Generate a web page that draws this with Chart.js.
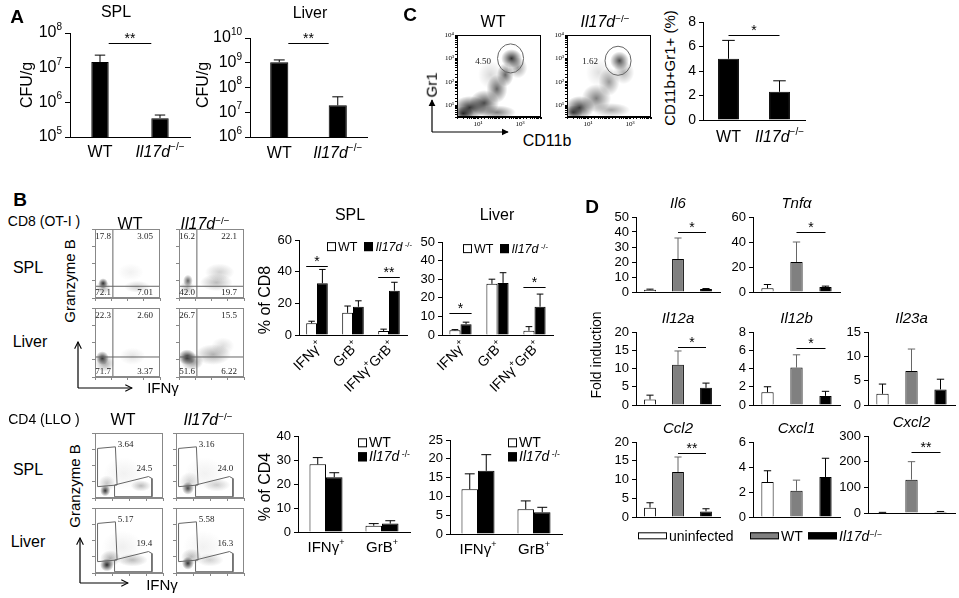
<!DOCTYPE html>
<html>
<head>
<meta charset="utf-8">
<title>Il17d infection figure</title>
<script src="https://cdn.jsdelivr.net/npm/chart.js@4.4.1/dist/chart.umd.min.js"></script>
<style>
  html, body { margin: 0; padding: 0; background: #fff; }
  #fig { position: relative; width: 959px; height: 598px; overflow: hidden; font-family: "Liberation Sans", Arial, Helvetica, sans-serif; color: #000; }
  #fig canvas { position: absolute; }
  .t { position: absolute; white-space: nowrap; line-height: 1.1; }
  .t sup { font-size: 0.62em; line-height: 0; vertical-align: 0.55em; }
  .sq { display: inline-block; width: 7px; height: 7px; border: 1px solid #000; margin-right: 2px; vertical-align: 0; background: #fff; }
  .bar { display: inline-block; width: 27px; height: 5px; border: 1px solid #000; margin-right: 2px; vertical-align: 2px; }
</style>
</head>
<body>
<div id="fig"></div>
<script>
// ---- values ----
const groups = ['WT', '_Il17d_^−/−^'];

// A: bacterial load, CFU/g (mean, sd)
const splCfu = [1.45e7, 3.5e5];
const splCfuSd = [0.85e7, 0.8e5];
const liverCfu = [1.05e9, 1.9e7];
const liverCfuSd = [0.25e9, 2.3e7];
const splSig = 5.1e7;
const liverSig = 6.3e9;

// C: CD11b+Gr1+ cells (%)
const myeloidPct = [5.0, 2.3];
const myeloidSd = [1.5, 0.9];
const myeloidSig = 6.9;
const gr1Gate = [4.50, 1.62];

// B: CD8 (OT-I) cytokine staining, % of CD8
const cd8Cats = ['IFNγ^+^', 'GrB^+^', 'IFNγ^+^GrB^+^'];
const cd8SplWt = [7.4, 14.0, 2.5];
const cd8SplWtSd = [1.3, 4.3, 1.2];
const cd8SplKo = [32.7, 17.8, 28.0];
const cd8SplKoSd = [8.7, 3.8, 5.3];
const cd8LivWt = [2.5, 27.5, 2.3];
const cd8LivWtSd = [0.4, 2.5, 2.2];
const cd8LivKo = [5.8, 28.0, 15.2];
const cd8LivKoSd = [1.1, 5.5, 6.8];

// B: CD4 (LLO), % of CD4
const cd4Cats = ['IFNγ^+^', 'GrB^+^'];
const cd4SplWt = [28.2, 2.6];
const cd4SplWtSd = [2.8, 0.9];
const cd4SplKo = [22.8, 3.5];
const cd4SplKoSd = [1.9, 1.2];
const cd4LivWt = [11.9, 6.6];
const cd4LivWtSd = [4.1, 2.2];
const cd4LivKo = [16.8, 5.8];
const cd4LivKoSd = [4.3, 1.3];

// B: flow quadrant percentages [UL, UR, LL, LR]
const cd8SplWtQ = [17.8, 3.05, 72.1, 7.01];
const cd8SplKoQ = [16.2, 22.1, 42.0, 19.7];
const cd8LivWtQ = [22.3, 2.60, 71.7, 3.37];
const cd8LivKoQ = [26.7, 15.5, 51.6, 6.22];
// B: CD4 gate percentages [GrB+, IFNγ+]
const cd4SplWtG = [3.64, 24.5];
const cd4SplKoG = [3.16, 24.0];
const cd4LivWtG = [5.17, 19.4];
const cd4LivKoG = [5.58, 16.3];

// flow gates, in decades
const cd8SplCut = [1.1, 0.68];
const cd8LivCut = [1.1, 1.16];
const grbGate = [[0.15, 0.7], [0.15, 3.05], [1.2, 3.15], [1.3, 0.8], [0.15, 0.7]];
const ifngGate = [[1.15, 0.08], [1.15, 0.8], [3.15, 1.32], [3.35, 1.2], [3.35, 0.08], [1.15, 0.08]];
const gr1GateWt = [2.55, 3.0];
const gr1GateKo = [2.43, 2.9];

// flow event density [x, y, spread x, spread y, density] in decades
const cloudCd8SplWt = [[0.5, 0.85, 0.3, 0.3, 0.9], [0.5, 0.6, 0.45, 0.4, 0.35], [2.6, 0.65, 0.8, 0.35, 0.2], [2.2, 1.5, 0.8, 0.5, 0.06]];
const cloudCd8SplKo = [[0.55, 1.0, 0.3, 0.35, 0.7], [0.5, 0.6, 0.45, 0.4, 0.3], [2.3, 0.9, 1.0, 0.5, 0.3], [2.5, 1.5, 0.9, 0.5, 0.2]];
const cloudCd8LivWt = [[0.45, 1.1, 0.4, 0.4, 0.9], [0.6, 0.8, 0.6, 0.5, 0.4], [2.3, 1.2, 0.8, 0.5, 0.12]];
const cloudCd8LivKo = [[0.5, 1.15, 0.55, 0.45, 0.95], [0.8, 0.9, 0.7, 0.5, 0.5], [2.1, 1.3, 1.1, 0.6, 0.35], [2.7, 1.8, 0.7, 0.5, 0.15]];
const cloudCd4SplWt = [[0.6, 0.45, 0.3, 0.35, 0.9], [0.7, 0.9, 0.5, 0.5, 0.25], [2.7, 0.75, 0.6, 0.35, 0.3], [1.7, 1.5, 1.2, 1.0, 0.06]];
const cloudCd4SplKo = [[0.7, 0.6, 0.35, 0.4, 0.8], [0.8, 1.0, 0.6, 0.6, 0.2], [2.4, 0.8, 0.8, 0.4, 0.22], [1.7, 1.5, 1.2, 1.0, 0.06]];
const cloudCd4LivWt = [[0.7, 0.5, 0.4, 0.4, 0.95], [0.9, 0.9, 0.6, 0.5, 0.35], [2.2, 0.8, 0.9, 0.4, 0.3], [1.6, 1.6, 1.2, 1.0, 0.07]];
const cloudCd4LivKo = [[0.7, 0.6, 0.35, 0.4, 0.9], [0.9, 1.0, 0.6, 0.5, 0.3], [2.0, 0.8, 0.8, 0.4, 0.2], [1.6, 1.6, 1.2, 1.0, 0.06]];
const cloudGr1Wt = [[0.6, 0.9, 0.8, 0.5, 0.8], [0.3, 0.65, 0.5, 0.3, 0.8], [1.3, 1.1, 0.7, 0.55, 0.7], [1.9, 0.7, 0.9, 0.3, 0.5],
  [1.9, 1.7, 0.5, 0.6, 0.6], [2.3, 2.3, 0.4, 0.5, 0.6], [2.6, 3.0, 0.5, 0.4, 0.8], [2.9, 2.6, 0.45, 0.45, 0.4], [1.6, 2.3, 0.6, 0.6, 0.15]];
const cloudGr1Ko = [[0.6, 0.9, 0.7, 0.5, 0.75], [0.3, 0.7, 0.45, 0.3, 0.7], [1.4, 1.3, 0.7, 0.6, 0.5], [2.1, 0.8, 0.9, 0.3, 0.35],
  [2.0, 2.0, 0.5, 0.6, 0.4], [2.5, 2.9, 0.45, 0.4, 0.7], [2.7, 2.4, 0.5, 0.5, 0.3], [1.5, 2.4, 0.6, 0.6, 0.12]];

// D: fold induction [uninfected, WT, Il17d-/-]
const infection = ['uninfected', 'WT', '_Il17d_^−/−^'];
const il6 = [1.5, 22, 2.0], il6Sd = [0.4, 14, 0.3], il6Sig = [40, '*'];
const tnfa = [3, 24, 4], tnfaSd = [3, 16, 0.7], tnfaSig = [48, '*'];
const il12a = [1.5, 11, 4.7], il12aSd = [1.2, 3.8, 1.3], il12aSig = [16, '*'];
const il12b = [1.4, 4.1, 1.0], il12bSd = [0.6, 1.4, 0.5], il12bSig = [6.3, '*'];
const il23a = [2.3, 7, 3.2], il23aSd = [2.0, 4.5, 2.1];
const ccl2 = [2.5, 12, 1.5], ccl2Sd = [1.3, 4, 0.7], ccl2Sig = [17, '**'];
const cxcl1 = [2.8, 2.1, 3.2], cxcl1Sd = [0.9, 0.85, 1.5];
const cxcl2 = [2, 130, 4], cxcl2Sd = [0.5, 70, 2], cxcl2Sig = [238, '**'];

// ---- helpers ----
const FONT = '"Liberation Sans", Arial, Helvetica, sans-serif';
const SERIF = '"Liberation Serif", "Times New Roman", serif';
const SUPS = '⁰¹²³⁴⁵⁶⁷⁸⁹';
const fig = document.getElementById('fig');
const isPow10 = v => Math.abs(Math.log10(v) - Math.round(Math.log10(v))) < 1e-6;

// '_x_' = italic, '^x^' = superscript
function parseRich(s) {
  const parts = [];
  let it = false, sup = false, buf = '';
  const flush = () => { if (buf) parts.push({ t: buf, it, sup }); buf = ''; };
  for (const ch of s) {
    if (ch === '_') { flush(); it = !it; }
    else if (ch === '^') { flush(); sup = !sup; }
    else buf += ch;
  }
  flush();
  return parts;
}
function richHtml(s) {
  return parseRich(s).map(p => {
    let h = p.t;
    if (p.it) h = '<i>' + h + '</i>';
    if (p.sup) h = '<sup>' + h + '</sup>';
    return h;
  }).join('');
}
function drawRich(ctx, s, x, y, size, align) {
  const parts = parseRich(s);
  const fontOf = p => (p.it ? 'italic ' : '') + (p.sup ? Math.round(size * 0.62) : size) + 'px ' + FONT;
  let total = 0;
  parts.forEach(p => { ctx.font = fontOf(p); p.w = ctx.measureText(p.t).width; total += p.w; });
  let cx = align === 'center' ? x - total / 2 : align === 'right' ? x - total : x;
  ctx.save();
  ctx.fillStyle = '#000';
  ctx.textBaseline = 'middle';
  ctx.textAlign = 'left';
  parts.forEach(p => {
    ctx.font = fontOf(p);
    ctx.fillText(p.t, cx, p.sup ? y - size * 0.36 : y);
    cx += p.w;
  });
  ctx.restore();
}

function label(html, x, y, size, rot, anchor) {
  const d = document.createElement('div');
  d.className = 't';
  d.innerHTML = html;
  const tx = anchor === 'left' ? '0' : '-50%';
  d.style.cssText = 'left:' + x + 'px;top:' + y + 'px;font-size:' + size + 'px;transform:translate(' + tx + ',-50%)' + (rot ? ' rotate(-90deg)' : '');
  fig.appendChild(d);
}

// canvas sized so the plot area lands on [ax..right] x [top..bottom]
function makeCanvas(box) {
  const pt = box.pt ?? 14, pr = box.pr ?? 6;
  const left = box.ax - box.yw, top = box.top - pt;
  const w = box.right - left + pr, h = box.bottom - top + box.xh;
  const c = document.createElement('canvas');
  c.width = w; c.height = h;
  c.style.left = left + 'px'; c.style.top = top + 'px';
  c.style.width = w + 'px'; c.style.height = h + 'px';
  fig.appendChild(c);
  return { ctx: c, padding: { top: pt, right: pr, left: 0, bottom: 0 } };
}

function baseOptions(padding, scales, plugins) {
  return {
    responsive: false, maintainAspectRatio: false, animation: false, events: [],
    layout: { padding }, scales,
    plugins: Object.assign({ legend: { display: false }, tooltip: { enabled: false } }, plugins)
  };
}
function linY(max, step, w, size) {
  return {
    type: 'linear', min: 0, max,
    ticks: { stepSize: step, autoSkip: false, color: '#000', font: { family: FONT, size: size || 13 }, padding: 3 },
    grid: { drawOnChartArea: false, drawTicks: true, tickLength: 4, color: '#000' },
    border: { display: true, color: '#000' },
    afterFit: s => { s.width = w; }
  };
}
function logY(min, max, w) {
  return {
    type: 'logarithmic', min, max,
    afterBuildTicks: s => { s.ticks = s.ticks.filter(t => isPow10(t.value)); },
    ticks: { display: false },
    grid: { drawOnChartArea: false, drawTicks: true, tickLength: 5, color: '#000' },
    border: { display: true, color: '#000' },
    afterFit: s => { s.width = w; }
  };
}
function catX(h) {
  return {
    type: 'category', offset: true,
    ticks: { display: false },
    grid: { display: false, drawTicks: false },
    border: { display: true, color: '#000' },
    afterFit: s => { s.height = h; }
  };
}

// ---- plugins ----
const errPlugin = {
  id: 'errbars',
  afterDatasetsDraw(chart) {
    const { ctx, scales: { y } } = chart;
    chart.data.datasets.forEach((ds, i) => {
      if (!ds.sd) return;
      chart.getDatasetMeta(i).data.forEach((bar, j) => {
        const e = ds.sd[j];
        if (!e) return;
        const yTop = y.getPixelForValue(ds.data[j] + e);
        const cap = Math.max(3, bar.width * 0.3);
        ctx.save();
        ctx.strokeStyle = Array.isArray(ds.errColor) ? ds.errColor[j] : '#000';
        ctx.lineWidth = 1;
        ctx.beginPath();
        ctx.moveTo(bar.x, bar.y);
        ctx.lineTo(bar.x, yTop);
        ctx.moveTo(bar.x - cap, yTop);
        ctx.lineTo(bar.x + cap, yTop);
        ctx.stroke();
        ctx.restore();
      });
    });
  }
};

const sigPlugin = {
  id: 'sig',
  afterDatasetsDraw(chart, args, o) {
    if (!o.items) return;
    const { ctx, scales: { y } } = chart;
    o.items.forEach(it => {
      const p = chart.getDatasetMeta(it.a[0]).data[it.a[1]];
      const q = chart.getDatasetMeta(it.b[0]).data[it.b[1]];
      let x1 = p.x, x2 = q.x;
      if (it.mode === 'edge') { x1 += p.width / 2; x2 -= q.width / 2; }
      if (it.mode === 'outer') { x1 -= p.width / 2; x2 += q.width / 2; }
      const py = Math.round(y.getPixelForValue(it.value)) + 0.5;
      ctx.save();
      ctx.strokeStyle = '#000';
      ctx.lineWidth = 1;
      ctx.beginPath();
      ctx.moveTo(x1, py);
      ctx.lineTo(x2, py);
      ctx.stroke();
      ctx.fillStyle = '#000';
      ctx.font = '14px ' + FONT;
      ctx.textAlign = 'center';
      ctx.textBaseline = 'alphabetic';
      ctx.fillText(it.text, (x1 + x2) / 2, py - 1);
      ctx.restore();
    });
  }
};

const richXPlugin = {
  id: 'richX',
  afterDraw(chart, args, o) {
    if (!o.labels) return;
    const { ctx, chartArea, scales: { x } } = chart;
    o.labels.forEach((lab, i) => {
      const px = x.getPixelForValue(i);
      if (o.rotate) {
        ctx.save();
        ctx.translate(px + 4, chartArea.bottom + o.dy);
        ctx.rotate(-Math.PI / 4);
        drawRich(ctx, lab, 0, 0, o.size, 'right');
        ctx.restore();
      } else {
        drawRich(ctx, lab, px, chartArea.bottom + o.dy, o.size, 'center');
      }
    });
  }
};

const powPlugin = {
  id: 'pow10',
  afterDraw(chart, args, o) {
    if (!o.size) return;
    const { ctx, chartArea, scales: { y } } = chart;
    y.ticks.forEach(t => {
      drawRich(ctx, '10^' + Math.round(Math.log10(t.value)) + '^', chartArea.left - 8, y.getPixelForValue(t.value), o.size, 'right');
    });
  }
};

const flowPlugin = {
  id: 'flow',
  beforeDatasetsDraw(chart, args, o) {
    if (!o.clusters) return;
    const { ctx, chartArea: ca, scales: { x, y } } = chart;
    ctx.save();
    ctx.beginPath();
    ctx.rect(ca.left, ca.top, ca.width, ca.height);
    ctx.clip();
    o.clusters.forEach(([cx, cy, sx, sy, w]) => {
      const px = x.getPixelForValue(10 ** cx), py = y.getPixelForValue(10 ** cy);
      const rx = Math.abs(x.getPixelForValue(10 ** (cx + sx)) - px);
      const ry = Math.abs(y.getPixelForValue(10 ** (cy + sy)) - py);
      ctx.save();
      ctx.translate(px, py);
      ctx.scale(rx, ry);
      const g = ctx.createRadialGradient(0, 0, 0, 0, 0, 1);
      g.addColorStop(0, 'rgba(' + o.rgb + ',' + w + ')');
      g.addColorStop(0.5, 'rgba(' + o.rgb + ',' + (w * 0.5) + ')');
      g.addColorStop(1, 'rgba(' + o.rgb + ',0)');
      ctx.fillStyle = g;
      ctx.beginPath();
      ctx.arc(0, 0, 1, 0, Math.PI * 2);
      ctx.fill();
      ctx.restore();
    });
    ctx.restore();
  },
  afterDatasetsDraw(chart, args, o) {
    if (!o.frame) return;
    const { ctx, chartArea: ca, scales: { x, y } } = chart;
    ctx.save();
    ctx.strokeStyle = o.frame;
    ctx.lineWidth = 1;
    ctx.strokeRect(ca.left + 0.5, ca.top + 0.5, ca.width - 1, ca.height - 1);
    if (o.circle) {
      const [cx, cy] = o.circle, r = 0.62;
      const px = x.getPixelForValue(10 ** cx), py = y.getPixelForValue(10 ** cy);
      const rx = x.getPixelForValue(10 ** (cx + r)) - px, ry = py - y.getPixelForValue(10 ** (cy + r));
      ctx.strokeStyle = '#666';
      ctx.beginPath();
      ctx.ellipse(px, py, rx, ry, 0, 0, Math.PI * 2);
      ctx.stroke();
    }
    ctx.fillStyle = '#222';
    ctx.font = (o.fontSize || 9) + 'px ' + SERIF;
    ctx.textAlign = 'center';
    ctx.textBaseline = 'middle';
    if (o.quad) {
      const f = v => v.toPrecision(3);
      ctx.fillText(f(o.quad[0]), ca.left + 8, ca.top + 8);
      ctx.fillText(f(o.quad[1]), ca.right - 15, ca.top + 8);
      ctx.fillText(f(o.quad[2]), ca.left + 8, ca.bottom - 5);
      ctx.fillText(f(o.quad[3]), ca.right - 15, ca.bottom - 5);
    }
    (o.marks || []).forEach(([v, dx, dy]) => {
      ctx.fillText(v.toPrecision(3), x.getPixelForValue(10 ** dx), y.getPixelForValue(10 ** dy));
    });
    ctx.restore();
  }
};

Chart.register(errPlugin, sigPlugin, richXPlugin, powPlugin, flowPlugin);

// ---- chart builders ----
function pairChart(box, vals, sd, yScale, barPct, sigValue, sigMode, labelDy) {
  const { ctx, padding } = makeCanvas(box);
  new Chart(ctx, {
    type: 'bar',
    data: { labels: groups, datasets: [{ data: vals, sd, backgroundColor: '#000', borderColor: '#000', borderWidth: 1, categoryPercentage: 1, barPercentage: barPct }] },
    options: baseOptions(padding, { x: catX(box.xh), y: yScale }, {
      sig: { items: [{ a: [0, 0], b: [0, 1], value: sigValue, text: sigMode === 'edge' ? '**' : '*', mode: sigMode }] },
      richX: { labels: groups, size: 16, dy: labelDy },
      pow10: yScale.type === 'logarithmic' ? { size: 16 } : {}
    })
  });
}

function groupChart(box, cats, wt, wtSd, ko, koSd, max, step, catPct, sig, rotate) {
  const { ctx, padding } = makeCanvas(box);
  const ds = (data, sd, fill) => ({ data, sd, backgroundColor: fill, borderColor: '#000', borderWidth: 1, categoryPercentage: catPct, barPercentage: 1 });
  new Chart(ctx, {
    type: 'bar',
    data: { labels: cats, datasets: [ds(wt, wtSd, '#fff'), ds(ko, koSd, '#000')] },
    options: baseOptions(padding, { x: catX(box.xh), y: linY(max, step, box.yw, 13) }, {
      sig: { items: sig.map(([c, v, t]) => ({ a: [0, c], b: [1, c], value: v, text: t, mode: 'outer' })) },
      richX: { labels: cats, size: rotate ? 14 : 15, dy: rotate ? 9 : 16, rotate }
    })
  });
}

function geneChart(box, title, vals, sd, max, step, sig) {
  const b = Object.assign({ yw: 32, xh: 12 }, box);
  const { ctx, padding } = makeCanvas(b);
  new Chart(ctx, {
    type: 'bar',
    data: { labels: infection, datasets: [{
      data: vals, sd,
      backgroundColor: ['#fff', '#808080', '#000'], errColor: ['#000', '#666', '#000'],
      borderColor: '#000', borderWidth: 1, categoryPercentage: 0.47, barPercentage: 0.9
    }] },
    options: baseOptions(padding, { x: catX(b.xh), y: linY(max, step, b.yw, 13) }, {
      sig: sig ? { items: [{ a: [0, 1], b: [0, 2], value: sig[0], text: sig[1], mode: 'center' }] } : {}
    })
  });
  label(richHtml(title), (b.ax + b.right) / 2, b.top - 14, 15);
}

function flowChart(box, o) {
  const { ctx, padding } = makeCanvas(box);
  const axis = (min, labels, isY) => ({
    type: 'logarithmic', min, max: 1e4,
    afterBuildTicks: o.minor ? undefined : s => { s.ticks = s.ticks.filter(t => isPow10(t.value)); },
    ticks: {
      display: !!labels, autoSkip: false, maxRotation: 0, color: '#000', padding: 1,
      font: { family: SERIF, size: 7 },
      callback: v => (labels && isPow10(v) && labels.includes(Math.round(Math.log10(v)))) ? '10' + SUPS[Math.round(Math.log10(v))] : ''
    },
    grid: { drawOnChartArea: false, drawTicks: true, tickLength: o.minor ? 2 : 3, color: o.tick },
    border: { display: true, color: o.frame },
    afterFit: isY ? s => { s.width = box.yw; } : s => { s.height = box.xh; }
  });
  const lines = (o.lines || []).map(pts => ({
    data: pts.map(([px, py]) => ({ x: 10 ** px, y: 10 ** py })),
    showLine: true, pointRadius: 0, borderColor: o.gate || '#555', borderWidth: 1, tension: 0
  }));
  new Chart(ctx, {
    type: 'scatter',
    data: { datasets: lines },
    options: baseOptions(padding, { x: axis(1, o.xLabels, false), y: axis(o.yMin || 1, o.yLabels, true) }, {
      flow: { clusters: o.clusters, rgb: o.rgb, frame: o.frame, circle: o.circle, quad: o.quad, marks: o.marks }
    })
  });
}

const quadLines = cut => [[[cut[0], 0], [cut[0], 4]], [[0, cut[1]], [4, cut[1]]]];

// ---- panel A ----
pairChart({ ax: 70, top: 33, right: 190, bottom: 137, yw: 50, xh: 26 }, splCfu, splCfuSd, logY(1e5, 1e8, 50), 0.29, splSig, 'edge', 16);
pairChart({ ax: 250, top: 38, right: 367, bottom: 137, yw: 40, xh: 26 }, liverCfu, liverCfuSd, logY(1e6, 1e10, 40), 0.31, liverSig, 'edge', 17);
label('<b>A</b>', 17, 17, 19);
label('SPL', 116, 12, 16);
label('Liver', 310, 13, 16);
label('CFU/g', 27, 85, 16, true);
label('CFU/g', 203, 85, 16, true);

// ---- panel C ----
flowChart({ ax: 457, top: 35, right: 541, bottom: 117, yw: 20, xh: 14, pt: 6, pr: 4 },
  { clusters: cloudGr1Wt, rgb: '0,0,0', frame: '#000', tick: '#000', minor: true, xLabels: [1, 3], yLabels: [1, 2, 3, 4], yMin: 10 ** 0.5, circle: gr1GateWt, marks: [[gr1Gate[0], 1.24, 2.88]] });
flowChart({ ax: 567, top: 35, right: 651, bottom: 117, yw: 20, xh: 14, pt: 6, pr: 4 },
  { clusters: cloudGr1Ko, rgb: '0,0,0', frame: '#000', tick: '#000', minor: true, xLabels: [1, 3], yLabels: [1, 2, 3, 4], yMin: 10 ** 0.5, circle: gr1GateKo, marks: [[gr1Gate[1], 1.1, 2.88]] });
pairChart({ ax: 703, top: 22, right: 805, bottom: 120, yw: 22, xh: 30 }, myeloidPct, myeloidSd, linY(8, 2, 22, 14), 0.41, myeloidSig, 'center', 18);
label('<b>C</b>', 410, 15, 19);
label('WT', 493, 22, 16);
label(richHtml('_Il17d_^−/−^'), 605, 22, 16);
label('Gr1', 432, 85, 15, true);
label('CD11b', 547, 141, 16);
label('CD11b+Gr1+ (%)', 670, 68, 15, true);

// ---- panel B, flow plots ----
const cd8Flow = { rgb: '30,30,30', frame: '#888', tick: '#888', gate: '#666' };
flowChart({ ax: 95, top: 229, right: 160, bottom: 298, yw: 6, xh: 6, pt: 2, pr: 2 }, Object.assign({ clusters: cloudCd8SplWt, lines: quadLines(cd8SplCut), quad: cd8SplWtQ }, cd8Flow));
flowChart({ ax: 95, top: 308, right: 160, bottom: 377, yw: 6, xh: 6, pt: 2, pr: 2 }, Object.assign({ clusters: cloudCd8LivWt, lines: quadLines(cd8LivCut), quad: cd8LivWtQ }, cd8Flow));
flowChart({ ax: 179, top: 229, right: 244, bottom: 298, yw: 6, xh: 6, pt: 2, pr: 2 }, Object.assign({ clusters: cloudCd8SplKo, lines: quadLines(cd8SplCut), quad: cd8SplKoQ }, cd8Flow));
flowChart({ ax: 179, top: 308, right: 244, bottom: 377, yw: 6, xh: 6, pt: 2, pr: 2 }, Object.assign({ clusters: cloudCd8LivKo, lines: quadLines(cd8LivCut), quad: cd8LivKoQ }, cd8Flow));

const cd4Marks = g => [[g[0], 1.8, 3.3], [g[1], 2.9, 1.8]];
flowChart({ ax: 95, top: 433, right: 163, bottom: 498, yw: 6, xh: 6, pt: 2, pr: 2 }, Object.assign({ clusters: cloudCd4SplWt, lines: [grbGate, ifngGate], marks: cd4Marks(cd4SplWtG) }, cd8Flow));
flowChart({ ax: 95, top: 508, right: 163, bottom: 573, yw: 6, xh: 6, pt: 2, pr: 2 }, Object.assign({ clusters: cloudCd4LivWt, lines: [grbGate, ifngGate], marks: cd4Marks(cd4LivWtG) }, cd8Flow));
flowChart({ ax: 176, top: 433, right: 244, bottom: 498, yw: 6, xh: 6, pt: 2, pr: 2 }, Object.assign({ clusters: cloudCd4SplKo, lines: [grbGate, ifngGate], marks: cd4Marks(cd4SplKoG) }, cd8Flow));
flowChart({ ax: 176, top: 508, right: 244, bottom: 573, yw: 6, xh: 6, pt: 2, pr: 2 }, Object.assign({ clusters: cloudCd4LivKo, lines: [grbGate, ifngGate], marks: cd4Marks(cd4LivKoG) }, cd8Flow));

label('<b>B</b>', 20, 200, 19);
label('CD8 (OT-I )', 44, 222, 14);
label('WT', 130, 224, 16);
label(richHtml('_Il17d_^−/−^'), 205, 224, 16);
label('SPL', 28, 268, 16);
label('Liver', 30, 342, 16);
label('Granzyme B', 70, 281, 15, true);
label('IFNγ', 163, 388, 15);
label('CD4 (LLO )', 44, 420, 14);
label('WT', 123, 420, 16);
label(richHtml('_Il17d_^−/−^'), 208, 420, 16);
label('SPL', 28, 470, 16);
label('Liver', 28, 542, 16);
label('Granzyme B', 75, 486, 15, true);
label('IFNγ', 162, 585, 15);

// ---- panel B, bar charts ----
groupChart({ ax: 299, top: 240, right: 407, bottom: 335, yw: 26, xh: 62 }, cd8Cats, cd8SplWt, cd8SplWtSd, cd8SplKo, cd8SplKoSd, 60, 20, 0.6,
  [[0, 43.5, '*'], [2, 36.6, '**']], true);
groupChart({ ax: 442, top: 242, right: 553, bottom: 335, yw: 26, xh: 62 }, cd8Cats, cd8LivWt, cd8LivWtSd, cd8LivKo, cd8LivKoSd, 50, 10, 0.6,
  [[0, 11.8, '*'], [2, 26, '*']], true);
groupChart({ ax: 298, top: 436, right: 410, bottom: 532, yw: 26, xh: 28 }, cd4Cats, cd4SplWt, cd4SplWtSd, cd4SplKo, cd4SplKoSd, 40, 10, 0.59, [], false);
groupChart({ ax: 450, top: 440, right: 562, bottom: 534, yw: 26, xh: 28 }, cd4Cats, cd4LivWt, cd4LivWtSd, cd4LivKo, cd4LivKoSd, 25, 5, 0.59, [], false);
label('SPL', 350, 215, 16);
label('Liver', 497, 215, 16);
label('% of CD8', 265, 300, 16, true);
label('% of CD4', 265, 487, 16, true);

const koLegend = '<span class="sq" style="background:#000"></span>' + richHtml('_Il17d_^ -/-^');
label('<span class="sq"></span>WT&nbsp;&nbsp;' + koLegend, 327, 248, 12.5, false, 'left');
label('<span class="sq"></span>WT&nbsp;&nbsp;' + koLegend, 463, 250, 12.5, false, 'left');
label('<span class="sq"></span>WT', 358, 443, 14, false, 'left');
label(koLegend, 358, 457, 14, false, 'left');
label('<span class="sq"></span>WT', 508, 443, 14, false, 'left');
label(koLegend, 508, 457, 14, false, 'left');

// ---- panel D ----
const c1 = { ax: 636, right: 720 }, c2 = { ax: 753, right: 840 }, c3 = { ax: 868, right: 955 };
const r1 = { top: 217, bottom: 292 }, r2 = { top: 332, bottom: 405 }, r3 = { top: 442, bottom: 517 };
geneChart(Object.assign({}, c1, r1), '_Il6_', il6, il6Sd, 50, 10, il6Sig);
geneChart(Object.assign({}, c2, r1), '_Tnfα_', tnfa, tnfaSd, 60, 20, tnfaSig);
geneChart(Object.assign({}, c1, r2), '_Il12a_', il12a, il12aSd, 20, 5, il12aSig);
geneChart(Object.assign({}, c2, r2), '_Il12b_', il12b, il12bSd, 8, 2, il12bSig);
geneChart(Object.assign({}, c3, r2), '_Il23a_', il23a, il23aSd, 15, 5, null);
geneChart(Object.assign({}, c1, r3), '_Ccl2_', ccl2, ccl2Sd, 20, 5, ccl2Sig);
geneChart(Object.assign({}, c2, r3), '_Cxcl1_', cxcl1, cxcl1Sd, 6, 2, null);
geneChart(Object.assign({}, c3, { top: 436, bottom: 513 }), '_Cxcl2_', cxcl2, cxcl2Sd, 300, 100, cxcl2Sig);
label('<b>D</b>', 592, 207, 19);
label('Fold induction', 597, 355, 14, true);
label('<span class="bar" style="background:#fff"></span>uninfected', 638, 537, 14, false, 'left');
label('<span class="bar" style="background:#808080"></span>WT', 750, 537, 14, false, 'left');
label('<span class="bar" style="background:#000"></span>' + richHtml('_Il17d_^−/−^'), 808, 537, 14, false, 'left');

// ---- axis arrows of the flow plots ----
fig.insertAdjacentHTML('beforeend',
  '<svg width="959" height="598" style="position:absolute;left:0;top:0">' +
  '<defs>' +
  '<marker id="solid" viewBox="0 0 10 10" refX="9" refY="5" markerWidth="6" markerHeight="6" orient="auto"><path d="M0,0L10,5L0,10z" fill="#000"/></marker>' +
  '<marker id="open" viewBox="0 0 10 10" refX="9" refY="5" markerWidth="7" markerHeight="7" orient="auto"><path d="M1,1L9,5L1,9" fill="none" stroke="#000" stroke-width="1.3"/></marker>' +
  '</defs>' +
  '<g stroke="#000" stroke-width="1.2" fill="none">' +
  '<line x1="432" y1="132" x2="432" y2="100" marker-end="url(#solid)"/>' +
  '<line x1="432" y1="132" x2="508" y2="132" marker-end="url(#solid)"/>' +
  '<line x1="78" y1="388" x2="78" y2="342" marker-end="url(#open)"/>' +
  '<line x1="78" y1="388" x2="132" y2="388" marker-end="url(#open)"/>' +
  '<line x1="80" y1="583" x2="80" y2="538" marker-end="url(#open)"/>' +
  '<line x1="80" y1="583" x2="128" y2="583" marker-end="url(#open)"/>' +
  '</g></svg>');
</script>
</body>
</html>
